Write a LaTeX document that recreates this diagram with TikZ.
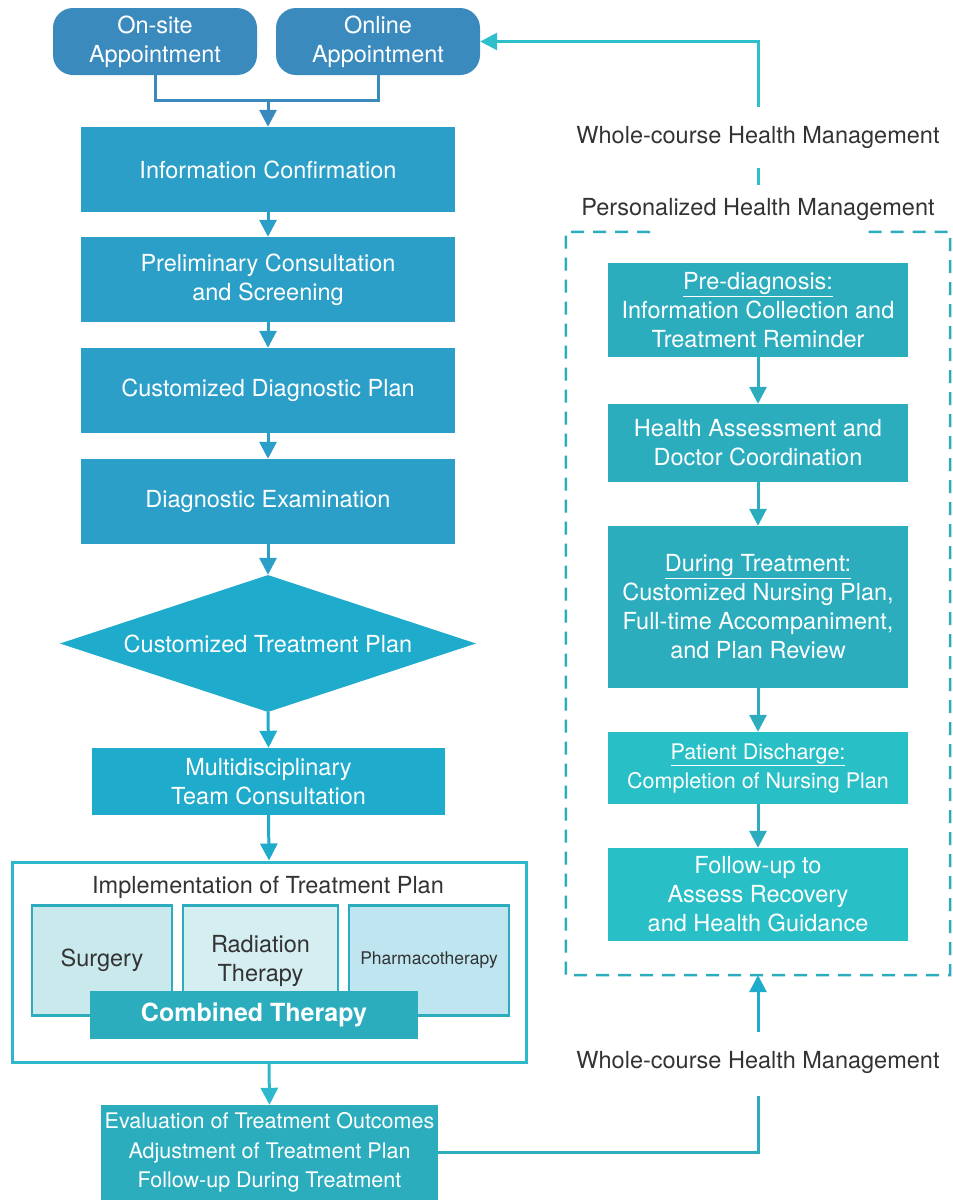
\documentclass[tikz,border=0pt]{standalone}
\usepackage{fontspec}
\setmainfont{TeX Gyre Heros}
\usepackage{tikz}
\usetikzlibrary{positioning,shapes.geometric,arrows.meta}
\definecolor{apptblue}{HTML}{3A8ABD}
\definecolor{stepblue}{HTML}{2B9FC7}
\definecolor{planblue}{HTML}{1EABCC}
\definecolor{frameteal}{HTML}{2DB9CB}
\definecolor{boxteal}{HTML}{2BADBE}
\definecolor{lightteal}{HTML}{29BFC6}
\definecolor{surgfill}{HTML}{C9E9EC}
\definecolor{radfill}{HTML}{D4EEF2}
\definecolor{pharmfill}{HTML}{BEE5F0}
\definecolor{linkteal}{HTML}{2EC0CA}
\definecolor{darktext}{HTML}{333333}
\newcommand\mainsize{\fontsize{23.5}{29}\selectfont}
\newcommand\evalsize{\fontsize{21.5}{29.5}\selectfont}
\tikzset{
    appt/.style={
           rectangle,
           rounded corners=20pt,
           fill=apptblue,
           text=white,
           minimum width=204pt, minimum height=67pt,
           inner sep=2pt,
           align=center, font=\mainsize,
           },
    stepbox/.style={
           rectangle,
           fill=stepblue,
           text=white,
           minimum width=374pt, minimum height=85pt,
           align=center, font=\mainsize,
           },
    carebox/.style={
           rectangle,
           fill=boxteal,
           text=white,
           minimum width=300pt,
           inner sep=2pt,
           align=center, font=\mainsize,
           },
    therapy/.style={
           rectangle,
           draw=boxteal, line width=2.5pt,
           text=darktext,
           minimum height=110pt,
           align=center, font=\mainsize,
           },
    plain/.style={text=darktext, font=\mainsize, inner sep=1pt},
    link/.style={line width=3pt},
    tip/.style={-{Triangle[width=17pt,length=17pt]}},
}
\begin{document}
\begin{tikzpicture}[x=1pt,y=1pt]
    \useasboundingbox (0,0) rectangle (953,-1200);

    % Appointments
    \node[appt] (onsite) at (155,-41.5) {On-site\\Appointment};
    \node[appt] (online) at (378,-41.5) {Online\\Appointment};
    \coordinate (join) at (268,-100);

    % Left column: the steps of diagnosis
    \node[stepbox] (info) at (268,-169.5) {Information Confirmation};
    \node[stepbox, below of=info, node distance=110pt] (prelim)
        {Preliminary Consultation\\and Screening};
    \node[stepbox, below of=prelim, node distance=111pt] (dplan)
        {Customized Diagnostic Plan};
    \node[stepbox, below of=dplan, node distance=111pt] (dexam)
        {Diagnostic Examination};
    \node[diamond, aspect=3, fill=planblue, text=white, inner sep=0pt,
        minimum width=416pt, minimum height=137pt, font=\mainsize,
        below of=dexam, node distance=142pt] (tplan)
        {Customized Treatment Plan};
    \node[rectangle, fill=planblue, text=white, minimum width=353pt,
        minimum height=67pt, align=center, font=\mainsize,
        at={(268.5,-781.5)}] (mdt)
        {Multidisciplinary\\Team Consultation};

    % Implementation of the plan
    \node[rectangle, draw=frameteal, line width=3pt, fill=white,
        minimum width=514pt, minimum height=200pt] (impl) at (269,-962) {};
    \node[plain] (impltitle) at (268,-887) {Implementation of Treatment Plan};
    \node[therapy, fill=surgfill, minimum width=140pt] (surgery) at (102,-960.5) {Surgery};
    \node[therapy, fill=radfill, minimum width=155pt] (radiation) at (260.5,-960.5)
        {Radiation\\Therapy};
    \node[therapy, fill=pharmfill, minimum width=160pt,
        font=\fontsize{17.5}{22}\selectfont] (pharma) at (429,-960.5) {Pharmacotherapy};
    \node[rectangle, fill=boxteal, text=white, minimum width=328pt, minimum height=48pt,
        font=\fontsize{25}{29}\selectfont\bfseries] (combined) at (254,-1015) {Combined Therapy};

    \node[rectangle, fill=boxteal, text=white, minimum width=337pt, minimum height=95pt,
        align=center, font=\evalsize] (eval) at (269.5,-1152.5)
        {Evaluation of Treatment Outcomes\\Adjustment of Treatment Plan\\Follow-up During Treatment};

    % Right column: personalized health management
    \node[plain] (wtop) at (758,-137) {Whole-course Health Management};
    \node[plain] (pers) at (758,-209) {Personalized Health Management};
    \node[plain] (wlow) at (758,-1062) {Whole-course Health Management};
    \node[minimum width=384pt, minimum height=743pt] (pbox) at (758,-603.5) {};

    \node[carebox, minimum height=94pt] (prediag) at (758,-310)
        {\underline{Pre-diagnosis:}\\Information Collection and\\Treatment Reminder};
    \node[carebox, minimum height=78pt] (assess) at (758,-443)
        {Health Assessment and\\Doctor Coordination};
    \node[carebox, minimum height=162pt] (during) at (758,-607)
        {\underline{During Treatment:}\\Customized Nursing Plan,\\Full-time Accompaniment,\\and Plan Review};
    \node[carebox, fill=lightteal, minimum height=72pt,
        font=\fontsize{21.5}{29}\selectfont] (disch) at (758,-768)
        {\underline{Patient Discharge:}\\Completion of Nursing Plan};
    \node[carebox, fill=lightteal, minimum height=93pt] (follow) at (758,-894.5)
        {Follow-up to\\Assess Recovery\\and Health Guidance};

    % connectors
    \draw[link, apptblue] (onsite.south) |- (join) -| (online.south);
    \draw[link, apptblue, tip] (join) -- (info.north);
    \foreach \a/\b in {info/prelim, prelim/dplan, dplan/dexam, dexam/tplan}
        \draw[link, stepblue, tip] (\a) -- (\b);
    \draw[link, planblue, tip] (tplan.south) -- (mdt.north);
    \draw[link, planblue, tip] (mdt.south) -- (impl.north);
    \draw[link, frameteal, tip] (impl.south) -- (eval.north);

    \foreach \a/\b in {prediag/assess, assess/during, during/disch, disch/follow}
        \draw[link, boxteal, tip] (\a) -- (\b);

    \coordinate (uplink) at (758,-107);
    \coordinate (midtop) at (758,-168);
    \coordinate (midbot) at (758,-185);
    \draw[link, linkteal, tip] (uplink) |- (online.east);
    \draw[link, linkteal] (midtop) -- (midbot);

    \coordinate (lowlink) at (758,-1096);
    \coordinate (lowtip) at (758,-1032);
    \draw[link, boxteal] (eval.east) -| (lowlink);
    \draw[link, planblue, tip] (lowtip) -- (pbox.south);

    % dashed frame, open at the top under the title
    \coordinate (gapleft) at (650,-232);
    \coordinate (gapright) at (866,-232);
    \draw[line width=2.5pt, boxteal, dash pattern=on 13pt off 9pt]
        (gapleft) -- (pbox.north west) -- (pbox.south west) -- (pbox.south east)
        -- (pbox.north east) -- (gapright);
\end{tikzpicture}
\end{document}
